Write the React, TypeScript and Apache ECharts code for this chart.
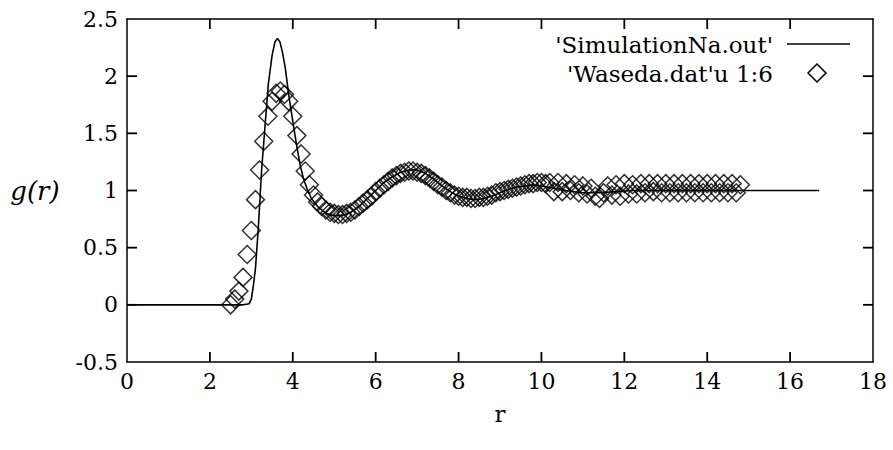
import React, { useEffect, useRef } from "react";
import * as echarts from "echarts";

const simR = [0, 2.8, 2.95, 3.0, 3.05, 3.1, 3.17, 3.25, 3.33, 3.41, 3.5, 3.57, 3.63, 3.69, 3.75, 3.82, 3.9, 4.02, 4.1, 4.18, 4.26, 4.34, 4.45, 4.6, 4.8, 5.0, 5.2, 5.4, 5.6, 5.8, 6.0, 6.2, 6.4, 6.6, 6.8, 7.0, 7.2, 7.4, 7.6, 7.8, 8.0, 8.2, 8.4, 8.6, 8.8, 9.0, 9.2, 9.4, 9.6, 9.8, 10.0, 10.3, 10.6, 11.0, 11.4, 11.8, 12.2, 13, 14, 15, 16, 16.7];
const simG = [0, 0, 0.01, 0.05, 0.17, 0.32, 0.68, 1.19, 1.56, 1.93, 2.18, 2.3, 2.33, 2.3, 2.21, 2.07, 1.84, 1.56, 1.38, 1.22, 1.1, 1.02, 0.93, 0.86, 0.8, 0.78, 0.78, 0.81, 0.86, 0.93, 1.0, 1.07, 1.12, 1.16, 1.18, 1.18, 1.15, 1.1, 1.04, 0.99, 0.95, 0.93, 0.92, 0.93, 0.95, 0.98, 1.01, 1.03, 1.04, 1.05, 1.04, 1.02, 1.0, 0.98, 0.98, 0.99, 1.0, 1.0, 1.0, 1.0, 1.0, 1.0];

const expR = [
  2.5, 2.6, 2.7, 2.8, 2.9, 3.0, 3.1, 3.2, 3.3, 3.4,
  3.5, 3.6, 3.7, 3.8, 3.9, 4.0, 4.1, 4.2, 4.3, 4.4,
  4.5, 4.6, 4.7, 4.8, 4.9, 5.0, 5.1, 5.2, 5.3, 5.4,
  5.5, 5.6, 5.7, 5.8, 5.9, 6.0, 6.1, 6.2, 6.3, 6.4,
  6.5, 6.6, 6.7, 6.8, 6.9, 7.0, 7.1, 7.2, 7.3, 7.4,
  7.5, 7.6, 7.7, 7.8, 7.9, 8.0, 8.1, 8.2, 8.3, 8.4,
  8.5, 8.6, 8.7, 8.8, 8.9, 9.0, 9.1, 9.2, 9.3, 9.4,
  9.5, 9.6, 9.7, 9.8, 9.9, 10.0, 10.1, 10.2, 10.3, 10.4,
  10.5, 10.6, 10.7, 10.8, 10.9, 11.0, 11.1, 11.2, 11.3, 11.4,
  11.5, 11.6, 11.7, 11.8, 11.9, 12.0, 12.1, 12.2, 12.3, 12.4,
  12.5, 12.6, 12.7, 12.8, 12.9, 13.0, 13.1, 13.2, 13.3, 13.4,
  13.5, 13.6, 13.7, 13.8, 13.9, 14.0, 14.1, 14.2, 14.3, 14.4,
  14.5, 14.6, 14.7, 14.8,
];
const expG = [
  0.0, 0.05, 0.12, 0.24, 0.44, 0.65, 0.92, 1.18, 1.43, 1.65,
  1.78, 1.85, 1.87, 1.84, 1.78, 1.65, 1.48, 1.32, 1.17, 1.05,
  0.96, 0.9, 0.86, 0.83, 0.81, 0.8, 0.79, 0.79, 0.8, 0.81,
  0.83, 0.86, 0.89, 0.92, 0.95, 0.99, 1.02, 1.05, 1.08, 1.11,
  1.13, 1.15, 1.16, 1.17, 1.17, 1.16, 1.15, 1.13, 1.11, 1.08,
  1.05, 1.03, 1.0, 0.98, 0.96, 0.95, 0.94, 0.94, 0.93, 0.93,
  0.94, 0.94, 0.95, 0.96, 0.98, 0.99, 1.0, 1.01, 1.02, 1.03,
  1.04, 1.05, 1.06, 1.06, 1.07, 1.07, 1.06, 1.07, 0.99, 1.07,
  0.99, 1.06, 1.0, 1.05, 0.98, 1.04, 0.97, 1.02, 0.95, 0.93,
  0.98, 1.04, 0.96, 1.05, 0.95, 1.06, 0.97, 1.05, 0.97, 1.06,
  0.98, 1.06, 0.99, 1.06, 0.98, 1.06, 0.98, 1.06, 0.98, 1.06,
  0.98, 1.06, 0.98, 1.06, 0.98, 1.06, 0.98, 1.06, 0.98, 1.06,
  0.98, 1.06, 0.98, 1.05,
];

const xTicks = { min: 0, max: 18, interval: 2 };
const yTicks = { min: -0.5, max: 2.5, interval: 0.5 };
const xTickValues = [2, 4, 6, 8, 10, 12, 14, 16];
const yTickValues = [0, 0.5, 1, 1.5, 2];

const simName = "'SimulationNa.out'";
const expName = "'Waseda.dat'u 1:6";

const FONT = "DejaVu Serif";
const TICK_LEN = 10;

export default function App() {
  const ref = useRef<HTMLDivElement>(null);
  useEffect(() => {
    if (!ref.current) return;
    const chart = echarts.init(ref.current, null, { renderer: "svg" });
    const axisLine = { show: true, onZero: false, lineStyle: { color: "#000", width: 1.5 } };
    const label = { color: "#000", fontFamily: FONT, fontSize: 22 };
    const tickStyle = { stroke: "#000", lineWidth: 1.8 };
    chart.setOption({
      animation: false,
      backgroundColor: "#fff",
      grid: { left: 127, right: 20, top: 19, bottom: 88, containLabel: false },
      xAxis: [
        {
          type: "value",
          ...xTicks,
          position: "bottom",
          axisLine,
          axisTick: { show: false },
          axisLabel: { ...label, margin: 8 },
          splitLine: { show: false },
          name: "r",
          nameLocation: "middle",
          nameGap: 40,
          nameTextStyle: { color: "#000", fontFamily: FONT, fontSize: 23 },
        },
        {
          type: "value",
          ...xTicks,
          position: "top",
          axisLine,
          axisTick: { show: false },
          axisLabel: { show: false },
          splitLine: { show: false },
        },
      ],
      yAxis: [
        {
          type: "value",
          ...yTicks,
          position: "left",
          axisLine,
          axisTick: { show: false },
          axisLabel: { ...label, margin: 9 },
          splitLine: { show: false },
          name: "g(r)",
          nameLocation: "middle",
          nameRotate: 0,
          nameGap: 92,
          nameTextStyle: { color: "#000", fontFamily: FONT, fontSize: 26, fontStyle: "italic", align: "center" },
        },
        {
          type: "value",
          ...yTicks,
          position: "right",
          axisLine,
          axisTick: { show: false },
          axisLabel: { show: false },
          splitLine: { show: false },
        },
      ],
      series: [
        {
          type: "custom",
          coordinateSystem: "cartesian2d",
          silent: true,
          clip: false,
          data: xTickValues.map((v) => [v, yTicks.min]),
          renderItem: (params: any, api: any) => {
            const v = api.value(0);
            const b = api.coord([v, yTicks.min]);
            const t = api.coord([v, yTicks.max]);
            return {
              type: "group",
              children: [
                { type: "line", shape: { x1: b[0], y1: b[1], x2: b[0], y2: b[1] - TICK_LEN }, style: tickStyle },
                { type: "line", shape: { x1: t[0], y1: t[1], x2: t[0], y2: t[1] + TICK_LEN }, style: tickStyle },
              ],
            };
          },
          z: 1,
        },
        {
          type: "custom",
          coordinateSystem: "cartesian2d",
          silent: true,
          clip: false,
          data: yTickValues.map((v) => [xTicks.min, v]),
          renderItem: (params: any, api: any) => {
            const v = api.value(1);
            const l = api.coord([xTicks.min, v]);
            const r = api.coord([xTicks.max, v]);
            return {
              type: "group",
              children: [
                { type: "line", shape: { x1: l[0], y1: l[1], x2: l[0] + TICK_LEN, y2: l[1] }, style: tickStyle },
                { type: "line", shape: { x1: r[0], y1: r[1], x2: r[0] - TICK_LEN, y2: r[1] }, style: tickStyle },
              ],
            };
          },
          z: 1,
        },
        {
          name: simName,
          type: "line",
          data: simR.map((r, i) => [r, simG[i]]),
          showSymbol: false,
          symbol: "none",
          lineStyle: { color: "#000", width: 1.6 },
          z: 2,
        },
        {
          name: expName,
          type: "scatter",
          data: expR.map((r, i) => [r, expG[i]]),
          symbol: "diamond",
          symbolSize: 18,
          itemStyle: { color: "rgba(0,0,0,0)", borderColor: "#000", borderWidth: 1.5 },
          z: 3,
        },
      ],
      graphic: [
        {
          type: "text",
          x: 773,
          y: 45,
          style: { text: simName, fill: "#000", font: `23px '${FONT}'`, textAlign: "right", textVerticalAlign: "middle" },
        },
        {
          type: "line",
          shape: { x1: 787, y1: 44, x2: 850, y2: 44 },
          style: { stroke: "#000", lineWidth: 1.6 },
        },
        {
          type: "text",
          x: 773,
          y: 74,
          style: { text: expName, fill: "#000", font: `23px '${FONT}'`, textAlign: "right", textVerticalAlign: "middle" },
        },
        {
          type: "polygon",
          shape: { points: [[817, 64], [826, 73], [817, 82], [808, 73]] },
          style: { fill: "none", stroke: "#000", lineWidth: 1.5 },
        },
      ],
    });
    return () => chart.dispose();
  }, []);
  return (
    <div
      ref={ref}
      style={{ position: "fixed", left: 0, top: 0, width: 893, height: 450, background: "#fff" }}
    />
  );
}
